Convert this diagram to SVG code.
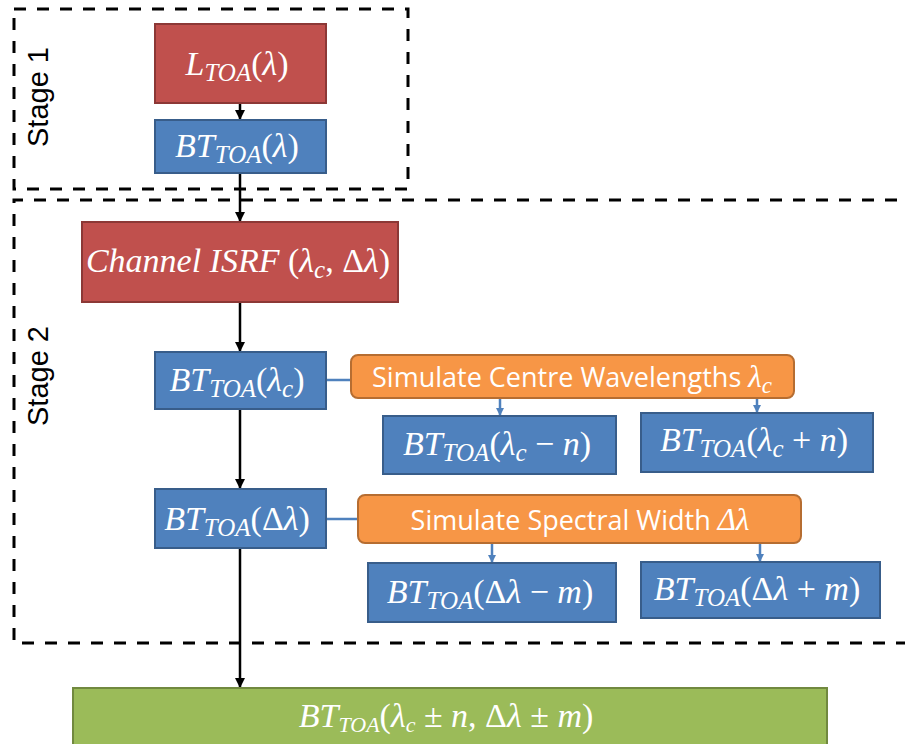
<svg xmlns="http://www.w3.org/2000/svg" width="905" height="744" viewBox="0 0 905 744">
<defs>
<style>
.red{fill:#C0504D;stroke:#8C3836;stroke-width:2}
.blue{fill:#4F81BD;stroke:#385D8A;stroke-width:2}
.orange{fill:#F79646;stroke:#B66D31;stroke-width:2}
.green{fill:#9BBB59;stroke:#71893F;stroke-width:2}
.stage{fill:none;stroke:#000;stroke-width:3;stroke-dasharray:12 11}
.lbl{font-family:"Liberation Sans",Arial,sans-serif;font-size:29px;fill:#000;text-anchor:middle}
.m{font-family:"Liberation Serif","Times New Roman",serif;font-style:italic;font-size:34px;fill:#fff;text-anchor:middle}
.s{font-size:25px}
.u{font-style:normal}
.o{font-family:"Open Sans","Liberation Sans",sans-serif;font-size:27px;fill:#fff;text-anchor:middle}
.ok{font-family:"Liberation Serif",serif;font-style:italic;font-size:31px}
.oks{font-size:23px}
.blk{stroke:#000;stroke-width:2.5;fill:none}
.bl{stroke:#4F81BD;stroke-width:2.5;fill:none}
</style>
<marker id="ah" markerUnits="userSpaceOnUse" markerWidth="10" markerHeight="10" refX="10" refY="5" orient="auto"><path d="M0,0 L10,5 L0,10 z" fill="#000"/></marker>
<marker id="bh" markerUnits="userSpaceOnUse" markerWidth="8" markerHeight="8" refX="8" refY="4" orient="auto"><path d="M0,0 L8,4 L0,8 z" fill="#4F81BD"/></marker>
</defs>
<rect width="905" height="744" fill="#fff"/>

<g id="stage1">
<rect class="stage" x="14" y="9" width="394" height="180"/>
<text class="lbl" transform="translate(48,97) rotate(-90)">Stage 1</text>
</g>
<g id="stage2">
<path class="stage" d="M920,200 H14 V643 H920"/>
<text class="lbl" transform="translate(48,376) rotate(-90)">Stage 2</text>
</g>

<g id="connectors">
<line class="blk" x1="240" y1="103" x2="240" y2="120" marker-end="url(#ah)"/>
<line class="blk" x1="240" y1="173" x2="240" y2="222" marker-end="url(#ah)"/>
<line class="blk" x1="240" y1="302" x2="240" y2="352" marker-end="url(#ah)"/>
<line class="blk" x1="240" y1="409" x2="240" y2="489" marker-end="url(#ah)"/>
<line class="blk" x1="240" y1="548" x2="240" y2="688" marker-end="url(#ah)"/>
<line class="bl" x1="327" y1="380" x2="351" y2="380"/>
<line class="bl" x1="327" y1="519" x2="358" y2="519"/>
<line class="bl" x1="500" y1="399" x2="500" y2="416" marker-end="url(#bh)"/>
<line class="bl" x1="757" y1="399" x2="757" y2="413" marker-end="url(#bh)"/>
<line class="bl" x1="492" y1="544" x2="492" y2="563" marker-end="url(#bh)"/>
<line class="bl" x1="760" y1="544" x2="760" y2="562" marker-end="url(#bh)"/>
</g>

<g id="n_ltoa">
<rect class="red" x="155" y="24" width="171" height="79"/>
<text class="m" x="237" y="75">L<tspan class="s" dy="6">TOA</tspan><tspan class="u" dy="-6">(</tspan>λ<tspan class="u">)</tspan></text>
</g>
<g id="n_bt">
<rect class="blue" x="155" y="120" width="171" height="53"/>
<text class="m" x="237" y="157">BT<tspan class="s" dy="6">TOA</tspan><tspan class="u" dy="-6">(</tspan>λ<tspan class="u">)</tspan></text>
</g>
<g id="n_isrf">
<rect class="red" x="82" y="222" width="316" height="80"/>
<text class="m" x="238" y="272">Channel ISRF <tspan class="u">(</tspan>λ<tspan class="s" dy="6">c</tspan><tspan class="u" dy="-6">, Δ</tspan>λ<tspan class="u">)</tspan></text>
</g>
<g id="n_btlc">
<rect class="blue" x="155" y="352" width="171" height="57"/>
<text class="m" x="237" y="391">BT<tspan class="s" dy="6">TOA</tspan><tspan class="u" dy="-6">(</tspan>λ<tspan class="s" dy="6">c</tspan><tspan class="u" dy="-6">)</tspan></text>
</g>
<g id="n_simc">
<rect class="orange" x="351" y="355" width="443" height="43" rx="7"/>
<text class="o" x="572" y="387">Simulate Centre Wavelengths <tspan class="ok">λ</tspan><tspan class="ok oks" dy="6">c</tspan></text>
</g>
<g id="n_btlcm">
<rect class="blue" x="383" y="416" width="233" height="58"/>
<text class="m" x="497" y="455">BT<tspan class="s" dy="6">TOA</tspan><tspan class="u" dy="-6">(</tspan>λ<tspan class="s" dy="6">c</tspan><tspan class="u" dy="-6"> − </tspan>n<tspan class="u">)</tspan></text>
</g>
<g id="n_btlcp">
<rect class="blue" x="641" y="413" width="232" height="59"/>
<text class="m" x="754" y="451">BT<tspan class="s" dy="6">TOA</tspan><tspan class="u" dy="-6">(</tspan>λ<tspan class="s" dy="6">c</tspan><tspan class="u" dy="-6"> + </tspan>n<tspan class="u">)</tspan></text>
</g>
<g id="n_btdl">
<rect class="blue" x="155" y="489" width="171" height="59"/>
<text class="m" x="237" y="530">BT<tspan class="s" dy="6">TOA</tspan><tspan class="u" dy="-6">(Δ</tspan>λ<tspan class="u">)</tspan></text>
</g>
<g id="n_simw">
<rect class="orange" x="358" y="495" width="443" height="48" rx="7"/>
<text class="o" x="580" y="530">Simulate Spectral Width <tspan class="ok" font-style="normal">Δ</tspan><tspan class="ok">λ</tspan></text>
</g>
<g id="n_btdlm">
<rect class="blue" x="368" y="563" width="248" height="59"/>
<text class="m" x="490" y="603">BT<tspan class="s" dy="6">TOA</tspan><tspan class="u" dy="-6">(Δ</tspan>λ<tspan class="u"> − </tspan>m<tspan class="u">)</tspan></text>
</g>
<g id="n_btdlp">
<rect class="blue" x="641" y="562" width="239" height="56"/>
<text class="m" x="757" y="600">BT<tspan class="s" dy="6">TOA</tspan><tspan class="u" dy="-6">(Δ</tspan>λ<tspan class="u"> + </tspan>m<tspan class="u">)</tspan></text>
</g>
<g id="n_result">
<rect class="green" x="73" y="688" width="754" height="70"/>
<text class="m" x="446" y="727" font-size="31px">BT<tspan font-size="22px" dy="5">TOA</tspan><tspan class="u" dy="-5">(</tspan>λ<tspan font-size="22px" dy="5">c</tspan><tspan class="u" dy="-5"> ± </tspan>n<tspan class="u">, Δ</tspan>λ<tspan class="u"> ± </tspan>m<tspan class="u">)</tspan></text>
</g>
</svg>
